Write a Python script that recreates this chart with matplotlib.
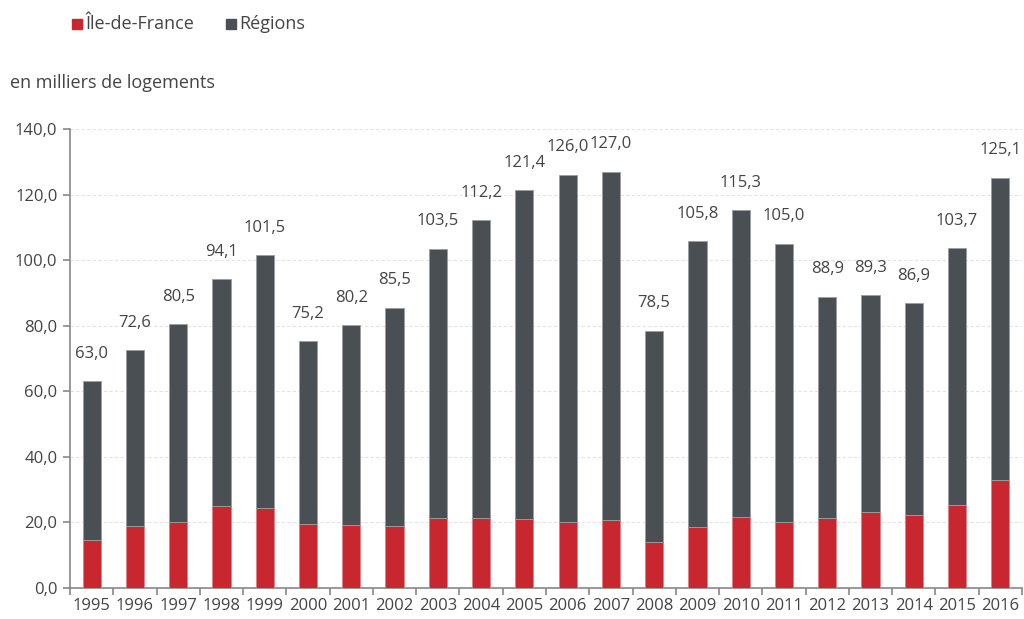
import numpy as np
import matplotlib.pyplot as plt
from matplotlib.ticker import FuncFormatter

years = [str(y) for y in range(1995, 2017)]
# logements commencés (milliers)
idf = [14.7, 18.9, 20.2, 25.0, 24.5, 19.6, 19.2, 19.0, 21.5, 21.5, 21.1,
       20.0, 20.8, 14.1, 18.6, 21.6, 20.2, 21.3, 23.2, 22.4, 25.4, 33.0]
total = [63.0, 72.6, 80.5, 94.1, 101.5, 75.2, 80.2, 85.5, 103.5, 112.2, 121.4,
         126.0, 127.0, 78.5, 105.8, 115.3, 105.0, 88.9, 89.3, 86.9, 103.7, 125.1]

RED = "#C8272F"
GREY = "#4A4F54"
TXT = "#444444"

plt.rcParams['font.family'] = ['Open Sans', 'DejaVu Sans']

idf_a = np.array(idf)
regions = np.array(total) - idf_a
x = np.arange(len(years))

fig = plt.figure(figsize=(10.24, 6.19), dpi=100)
ax = fig.add_axes([70 / 1024, 31 / 619, 952 / 1024, 459 / 619])

ax.bar(x, idf_a, width=0.42, color=RED, edgecolor="#e08088", linewidth=0.6, zorder=3)
ax.bar(x, regions, bottom=idf_a, width=0.42, color=GREY, edgecolor="#9a9ea2", linewidth=0.6, zorder=3)

for xi, t in zip(x, total):
    ax.annotate(f"{t:.1f}".replace(".", ","), (xi, t), xytext=(0, 14),
                textcoords="offset points", ha="center", va="bottom",
                fontsize=12, color=TXT)

ax.set_xlim(-0.5, len(years) - 0.5)
ax.set_ylim(0, 140)
ax.set_yticks(np.arange(0, 141, 20))
ax.yaxis.set_major_formatter(FuncFormatter(lambda v, p: f"{v:.1f}".replace(".", ",")))
ax.yaxis.grid(True, color="#e4e4e4", linestyle=(0, (3, 2)), linewidth=0.8, zorder=0)

ax.set_xticks(x)
ax.set_xticklabels(years)
ax.set_xticks(np.arange(-0.5, len(years), 1), minor=True)
ax.tick_params(axis="x", which="major", length=0, pad=7, labelsize=12, labelcolor=TXT)
ax.tick_params(axis="x", which="minor", length=5, width=1.2, color="#888888", direction="out")
ax.tick_params(axis="y", length=5, width=1.2, color="#888888", labelsize=12, labelcolor=TXT, pad=4)

for s in ["top", "right"]:
    ax.spines[s].set_visible(False)
for s in ["left", "bottom"]:
    ax.spines[s].set_color("#888888")
    ax.spines[s].set_linewidth(1.2)

# légende et unité
fig.patches.append(plt.Rectangle((72 / 1024, 1 - 29 / 619), 10 / 1024, 10 / 619,
                                 transform=fig.transFigure, color=RED))
fig.text(85 / 1024, 1 - 24 / 619, "Île-de-France", fontsize=13, color=TXT, va="center")
fig.patches.append(plt.Rectangle((226 / 1024, 1 - 29 / 619), 10 / 1024, 10 / 619,
                                 transform=fig.transFigure, color=GREY))
fig.text(239 / 1024, 1 - 24 / 619, "Régions", fontsize=13, color=TXT, va="center")
fig.text(10 / 1024, 1 - 83 / 619, "en milliers de logements", fontsize=13, color=TXT, va="center")

fig.savefig("out.png", dpi=100)
